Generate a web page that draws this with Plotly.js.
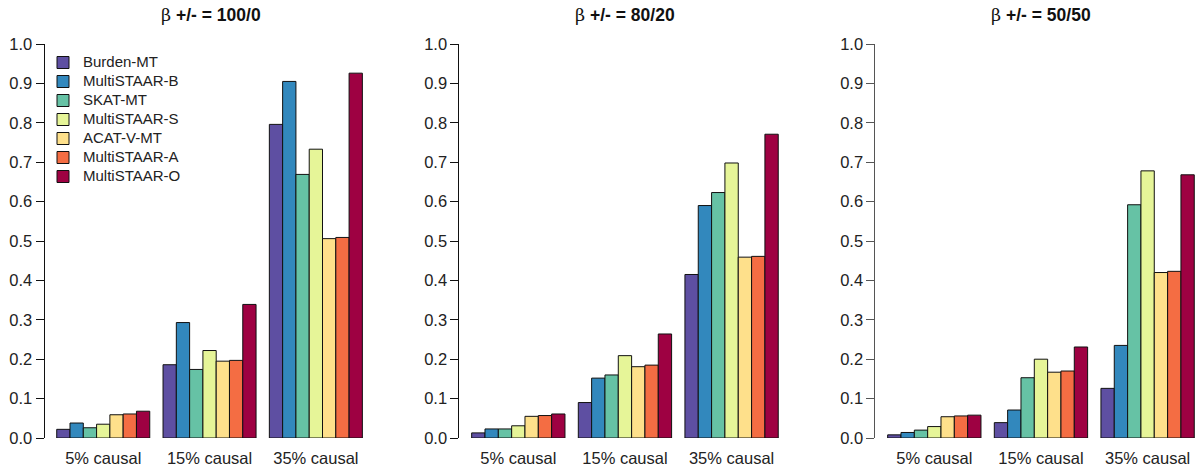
<!DOCTYPE html>
<html>
<head>
<meta charset="utf-8">
<script src="https://cdn.plot.ly/plotly-3.0.1.min.js"></script>
<style>html,body{margin:0;padding:0;background:#fff;}#chart{width:1198px;height:472px;}</style>
</head>
<body>
<div id="chart"></div>
<script>
// ---- data ----
const categories = ["5% causal", "15% causal", "35% causal"];
const methods = ["Burden-MT", "MultiSTAAR-B", "SKAT-MT", "MultiSTAAR-S", "ACAT-V-MT", "MultiSTAAR-A", "MultiSTAAR-O"];
const colors = ["#5E4FA2", "#3288BD", "#66C2A5", "#E6F598", "#FEE08B", "#F46D43", "#9E0142"];
const panelTitles = ["100/0", "80/20", "50/50"];

// rows = methods, columns = categories
const power100_0 = [
  [0.022, 0.186, 0.796],
  [0.038, 0.293, 0.905],
  [0.026, 0.174, 0.669],
  [0.035, 0.222, 0.733],
  [0.059, 0.195, 0.506],
  [0.061, 0.197, 0.509],
  [0.068, 0.339, 0.926]
];
const power80_20 = [
  [0.013, 0.090, 0.415],
  [0.023, 0.152, 0.590],
  [0.023, 0.160, 0.623],
  [0.031, 0.209, 0.698],
  [0.055, 0.181, 0.459],
  [0.057, 0.185, 0.461],
  [0.061, 0.264, 0.771]
];
const power50_50 = [
  [0.008, 0.039, 0.126],
  [0.014, 0.071, 0.235],
  [0.020, 0.153, 0.592],
  [0.029, 0.200, 0.678],
  [0.054, 0.167, 0.420],
  [0.056, 0.170, 0.423],
  [0.058, 0.231, 0.668]
];
const panels = [power100_0, power80_20, power50_50];

// ---- layout helpers ----
const W = 1198, H = 472;
const xDomains = [[44.5 / W, 374.6 / W], [459.4 / W, 790.5 / W], [875.4 / W, 1]];
const xRanges = [[-0.5525, 2.5525], [-0.5525, 2.5525], [-0.5525, 2.4725]];
const titleCenters = [211 / W, 625 / W, 1041 / W];
const yDomain = [(H - 438) / H, (H - 44) / H];
const axisColors = ["#111", "#111", "#555"];

const traces = [];
panels.forEach((data, p) => {
  const suffix = p === 0 ? "" : String(p + 1);
  methods.forEach((m, i) => {
    traces.push({
      type: "bar",
      name: '<span style="font-size:15px">' + m + '</span>',
      x: categories,
      y: data[i],
      xaxis: "x" + suffix,
      yaxis: "y" + suffix,
      marker: {color: colors[i], line: {color: "#111", width: 1}},
      showlegend: p === 0,
      legendgroup: m,
      hoverinfo: "x+y"
    });
  });
});

const layout = {
  width: W, height: H,
  margin: {l: 0, r: 0, t: 0, b: 0},
  paper_bgcolor: "#fff", plot_bgcolor: "#fff",
  font: {family: "Liberation Sans, Arial, sans-serif", color: "#222", size: 16},
  barmode: "group", bargap: 0.125, bargroupgap: 0,
  showlegend: true,
  legend: {
    x: 43 / W, y: (H - 48) / H, xanchor: "left", yanchor: "top",
    bgcolor: "rgba(0,0,0,0)", borderwidth: 0,
    font: {size: 11, color: "#222"},
    traceorder: "normal"
  },
  annotations: []
};

panels.forEach((_, p) => {
  const suffix = p === 0 ? "" : String(p + 1);
  layout["xaxis" + suffix] = {
    domain: xDomains[p], range: xRanges[p], type: "category",
    categoryorder: "array", categoryarray: categories,
    showline: false, showgrid: false, zeroline: false, ticks: "",
    ticklabelstandoff: 8,
    tickfont: {size: 16.5, color: "#222"},
    anchor: "y" + suffix, fixedrange: true
  };
  layout["yaxis" + suffix] = {
    domain: yDomain, range: [0, 1], dtick: 0.1, tick0: 0, tickformat: ".1f",
    showline: true, linecolor: axisColors[p], linewidth: 1,
    ticks: "outside", ticklen: 8, tickcolor: axisColors[p], tickwidth: 1,
    showgrid: false, zeroline: false,
    tickfont: {size: 16.5, color: "#222"},
    anchor: "x" + suffix, fixedrange: true
  };
  layout.annotations.push({
    xref: "paper", yref: "paper", x: titleCenters[p], y: (H - 15) / H,
    xanchor: "center", yanchor: "middle", showarrow: false,
    text: '<span style="font-family:\'DejaVu Serif\',serif;font-weight:normal">β</span> <b>+/- = ' + panelTitles[p] + '</b>',
    font: {size: 17.5, color: "#111", family: "Liberation Sans, Arial, sans-serif"}
  });
});

Plotly.newPlot("chart", traces, layout, {displayModeBar: false, staticPlot: true});
</script>
</body>
</html>
